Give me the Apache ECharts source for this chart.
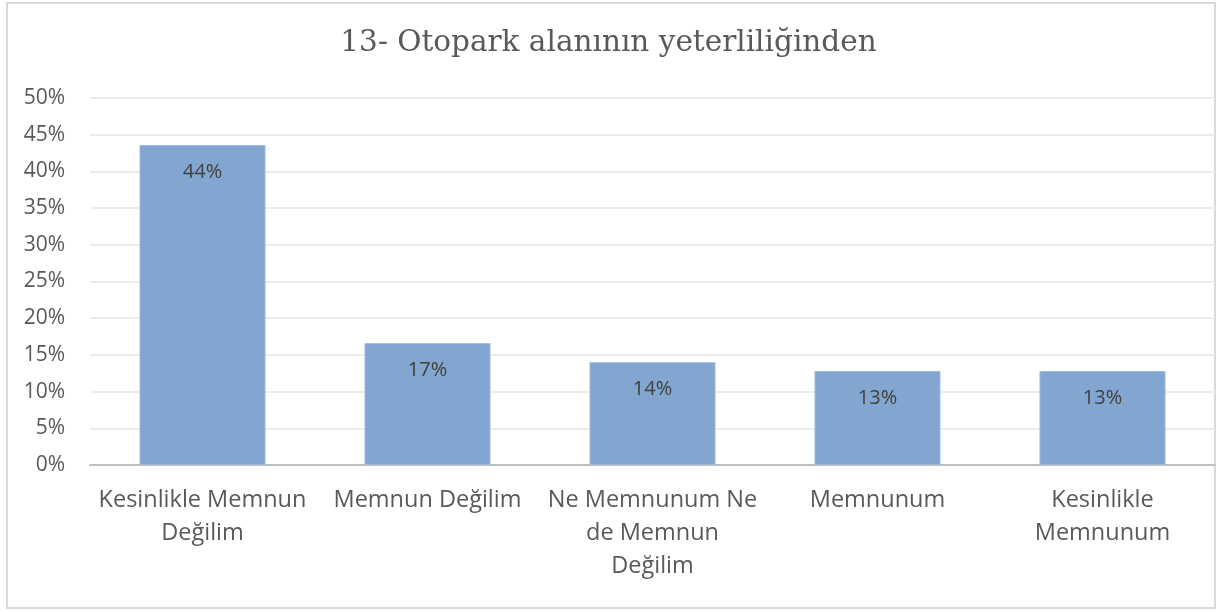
<!DOCTYPE html>
<html>
<head>
<meta charset="utf-8">
<script src="https://cdn.jsdelivr.net/npm/echarts@6/dist/echarts.min.js"></script>
<style>
  html, body { margin: 0; padding: 0; background: #fff; }
  #chart { width: 1217px; height: 612px; }
</style>
</head>
<body>
<div id="chart"></div>
<script>
const titleText = '13- Otopark alanının yeterliliğinden'
const categories = [
  'Kesinlikle Memnun\nDeğilim',
  'Memnun Değilim',
  'Ne Memnunum Ne\nde Memnun\nDeğilim',
  'Memnunum',
  'Kesinlikle\nMemnunum'
]
const values = [43.6, 16.6, 14.0, 12.8, 12.8]
const yTicks = { min: 0, max: 50, step: 5 }

const myChart = echarts.init(document.getElementById('chart'))
const option = {
  animation: false,
  backgroundColor: '#fff',
  title: {
    text: titleText,
    left: 'center',
    top: 23,
    textStyle: {
      fontFamily: 'DejaVu Serif',
      fontWeight: 'normal',
      fontSize: 29.5,
      color: '#595959'
    }
  },
  graphic: [{
    type: 'rect',
    shape: { x: 7, y: 3, width: 1208, height: 605 },
    style: { fill: 'none', stroke: '#d9d9d9', lineWidth: 2 },
    silent: true,
    z: -1
  }],
  grid: { left: 90, right: 2, top: 98, bottom: 147 },
  xAxis: {
    type: 'category',
    data: categories,
    axisTick: { show: false },
    axisLine: { lineStyle: { color: '#bfbfbf', width: 2 } },
    axisLabel: {
      interval: 0,
      margin: 19,
      color: '#595959',
      fontFamily: 'Open Sans',
      fontSize: 23.5,
      lineHeight: 33
    }
  },
  yAxis: {
    type: 'value',
    min: yTicks.min,
    max: yTicks.max,
    interval: yTicks.step,
    axisLine: { show: false },
    axisTick: { show: false },
    splitLine: { lineStyle: { color: '#ececec', width: 2 } },
    axisLabel: {
      formatter: '{value}%',
      margin: 25,
      color: '#595959',
      fontFamily: 'Open Sans',
      fontSize: 21
    }
  },
  series: [{
    type: 'bar',
    data: values,
    barWidth: '56%',
    itemStyle: { color: '#82a6cf', borderColor: '#9dbadb', borderWidth: 1 },
    label: {
      show: true,
      position: 'insideTop',
      distance: 17,
      formatter: p => Math.round(p.value) + '%',
      color: '#404040',
      fontFamily: 'Open Sans',
      fontSize: 20
    }
  }]
}
myChart.setOption(option)
</script>
</body>
</html>
